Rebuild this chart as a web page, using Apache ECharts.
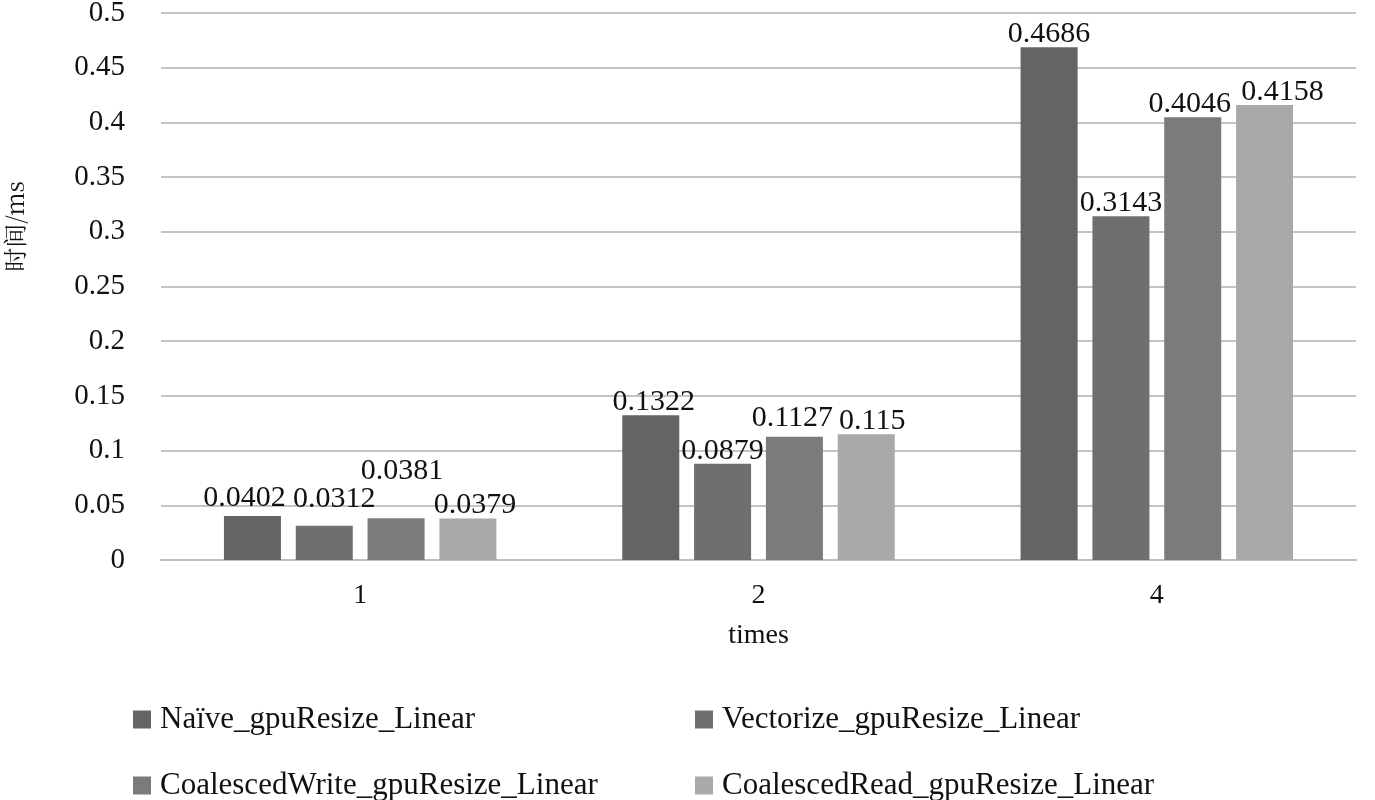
<!DOCTYPE html>
<html><head><meta charset="utf-8">
<script src="https://cdn.jsdelivr.net/npm/echarts@6/dist/echarts.min.js"></script>
<style>html,body{margin:0;padding:0;background:#fff}#c{width:1375px;height:800px}</style>
</head><body><div id="c"></div>
<script>
const categories = ['1', '2', '4'];
const seriesNames = ['Naïve_gpuResize_Linear', 'Vectorize_gpuResize_Linear', 'CoalescedWrite_gpuResize_Linear', 'CoalescedRead_gpuResize_Linear'];
const naive = [0.0402, 0.1322, 0.4686];
const vectorize = [0.0312, 0.0879, 0.3143];
const coalescedWrite = [0.0381, 0.1127, 0.4046];
const coalescedRead = [0.0379, 0.115, 0.4158];
const yTicks = [0, 0.05, 0.1, 0.15, 0.2, 0.25, 0.3, 0.35, 0.4, 0.45, 0.5];

// label nudges (style only) to mimic the reference's collision avoidance: [series][category] -> [dx, dy]
const LABEL_NUDGE = [
  [[-8, -5], [3, 0], [0, 0]],
  [[10, -14], [0, 0], [0, 0]],
  [[6, -34], [-2, -6], [-3, 0]],
  [[7, 0], [6, 0], [18, 0]]
];

const colors = ['#646464', '#6f6f6f', '#7b7b7b', '#a9a9a9'];
const FONT = '"Liberation Serif", "Times New Roman", serif';
const values = [naive, vectorize, coalescedWrite, coalescedRead];

const series = values.map((vals, i) => ({
  name: seriesNames[i],
  type: 'bar',
  barWidth: 57,
  barGap: '26%',
  itemStyle: { color: colors[i] },
  label: { show: true, position: 'top', distance: -2, color: '#111', fontFamily: FONT, fontSize: 30, formatter: p => String(p.value) },
  data: vals.map((v, j) => ({ value: v, label: { offset: LABEL_NUDGE[i][j] } }))
}));

const legendPos = [[128, 699], [690, 699], [128, 765], [690, 765]];
const legends = seriesNames.map((n, i) => ({
  data: [n], left: legendPos[i][0], top: legendPos[i][1],
  icon: 'rect', itemWidth: 18, itemHeight: 18, itemGap: 12,
  textStyle: { fontFamily: FONT, fontSize: 31, color: '#111', padding: [0, 0, 0, 4] },
  selectedMode: false
}));

const chart = echarts.init(document.getElementById('c'));
chart.setOption({
  animation: false,
  backgroundColor: '#fff',
  grid: { left: 161, right: 19, top: 13, bottom: 240, outerBoundsMode: 'none', containLabel: false },
  legend: legends,
  xAxis: {
    type: 'category', data: categories,
    name: 'times', nameLocation: 'middle', nameGap: 62,
    nameTextStyle: { fontFamily: FONT, fontSize: 28, color: '#111' },
    axisLine: { lineStyle: { color: '#bfbfbf', width: 2 } },
    axisTick: { show: false },
    axisLabel: { fontFamily: FONT, fontSize: 28, color: '#111', margin: 22 }
  },
  yAxis: {
    type: 'value', min: 0, max: 0.5, interval: 0.05,
    name: '时间/ms', nameLocation: 'middle', nameGap: 134, nameRotate: 90,
    nameTextStyle: { fontFamily: '"Noto Serif CJK SC", "Noto Sans CJK SC", serif', fontSize: 24, color: '#111', padding: [0, 0, 0, 120] },
    axisLine: { show: false }, axisTick: { show: false },
    splitLine: { lineStyle: { color: '#c4c4c4', width: 2 } },
    axisLabel: { fontFamily: FONT, fontSize: 29, color: '#111', margin: 36,
      formatter: v => { const t = yTicks.find(x => Math.abs(x - v) < 1e-9); return String(t !== undefined ? t : v); } }
  },
  series: series
});
</script></body></html>
